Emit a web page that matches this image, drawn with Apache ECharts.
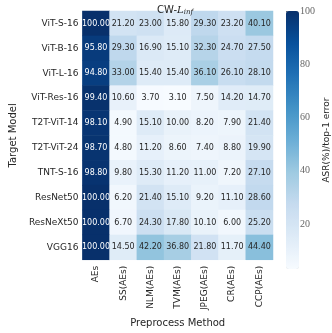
<!DOCTYPE html>
<html><head><meta charset="utf-8">
<script src="https://cdn.jsdelivr.net/npm/echarts@6/dist/echarts.min.js"></script>
<style>html,body{margin:0;padding:0;background:#fff}#c{width:332px;height:333px}</style>
</head><body><div id="c"></div>
<script>
const models = ['ViT-S-16','ViT-B-16','ViT-L-16','ViT-Res-16','T2T-ViT-14','T2T-ViT-24','TNT-S-16','ResNet50','ResNeXt50','VGG16'];
const methods = ['AEs','SS(AEs)','NLM(AEs)','TVM(AEs)','JPEG(AEs)','CR(AEs)','CCP(AEs)'];
const vit_s_16 = [100.00, 21.20, 23.00, 15.80, 29.30, 23.20, 40.10];
const vit_b_16 = [95.80, 29.30, 16.90, 15.10, 32.30, 24.70, 27.50];
const vit_l_16 = [94.80, 33.00, 15.40, 15.40, 36.10, 26.10, 28.10];
const vit_res_16 = [99.40, 10.60, 3.70, 3.10, 7.50, 14.20, 14.70];
const t2t_vit_14 = [98.10, 4.90, 15.10, 10.00, 8.20, 7.90, 21.40];
const t2t_vit_24 = [98.70, 4.80, 11.20, 8.60, 7.40, 8.80, 19.90];
const tnt_s_16 = [98.80, 9.80, 15.30, 11.20, 11.00, 7.20, 27.10];
const resnet50 = [100.00, 6.20, 21.40, 15.10, 9.20, 11.10, 28.60];
const resnext50 = [100.00, 6.70, 24.30, 17.80, 10.10, 6.00, 25.20];
const vgg16 = [100.00, 14.50, 42.20, 36.80, 21.80, 11.70, 44.40];
const colorbarTicks = [20, 40, 60, 80, 100];
const cmin = 3.1, cmax = 100;

const rows = [vit_s_16, vit_b_16, vit_l_16, vit_res_16, t2t_vit_14, t2t_vit_24, tnt_s_16, resnet50, resnext50, vgg16];
const blues = ['#f7fbff','#deebf7','#c6dbef','#9ecae1','#6baed6','#4292c6','#2171b5','#08519c','#08306b'];
const data = [];
rows.forEach((r, yi) => r.forEach((v, xi) => {
  data.push({value: [xi, yi, v], label: {color: v > 60 ? '#ffffff' : '#262626'}});
}));
const FONT = 'DejaVu Sans';
const chart = echarts.init(document.getElementById('c'), null, {renderer: 'canvas'});
chart.setOption({
  animation: false,
  title: {
    text: '{a|CW-}{i|L}{s|inf}', left: 170, top: -1, textAlign: 'center',
    textStyle: {fontWeight: 'normal', rich: {
      a: {fontFamily: FONT, fontSize: 10, fontWeight: 'normal', color: '#262626'},
      i: {fontFamily: 'DejaVu Serif', fontStyle: 'italic', fontWeight: 'normal', fontSize: 10, color: '#262626'},
      s: {fontFamily: 'DejaVu Serif', fontStyle: 'italic', fontWeight: 'normal', fontSize: 7, color: '#262626', padding: [5, 0, 0, 0]}
    }}
  },
  grid: [
    {left: 67, top: 11, width: 206, height: 258},
    {left: 286, top: 11, width: 13, height: 258}
  ],
  xAxis: [
    {type: 'category', data: methods, gridIndex: 0, position: 'bottom',
     axisLine: {show: false}, axisTick: {show: false}, splitLine: {show: false},
     axisLabel: {rotate: 90, fontFamily: FONT, fontSize: 9, color: '#262626', margin: 6},
     name: 'Preprocess Method', nameLocation: 'middle', nameGap: 56,
     nameTextStyle: {fontFamily: FONT, fontSize: 10, color: '#262626'}},
    {type: 'value', gridIndex: 1, show: false}
  ],
  yAxis: [
    {type: 'category', data: models, gridIndex: 0, inverse: true,
     axisLine: {show: false}, axisTick: {show: false}, splitLine: {show: false},
     axisLabel: {fontFamily: FONT, fontSize: 9, color: '#262626', margin: 4},
     name: 'Target Model', nameLocation: 'middle', nameGap: 63, nameRotate: 90,
     nameTextStyle: {fontFamily: FONT, fontSize: 10, color: '#262626'}},
    {type: 'value', gridIndex: 1, position: 'right', min: cmin, max: cmax,
     axisLine: {show: false}, splitLine: {show: false},
     axisTick: {show: true, length: 3, lineStyle: {color: '#666'}, customValues: colorbarTicks},
     axisLabel: {fontFamily: 'Liberation Serif', fontSize: 10, color: '#666', margin: 2, customValues: colorbarTicks},
     name: 'ASR(%)/top-1 error', nameLocation: 'middle', nameGap: 24, nameRotate: 90,
     nameTextStyle: {fontFamily: FONT, fontSize: 9, color: '#262626'}}
  ],
  visualMap: {
    type: 'continuous', min: cmin, max: cmax, seriesIndex: 0, calculable: false,
    orient: 'vertical', left: 286, top: 11, itemWidth: 13, itemHeight: 258,
    padding: 0, text: null, showLabel: false, hoverLink: false,
    inRange: {color: blues}
  },
  series: [
    {type: 'heatmap', xAxisIndex: 0, yAxisIndex: 0, data: data,
     label: {show: true, fontFamily: FONT, fontSize: 8, formatter: p => p.value[2].toFixed(2)},
     itemStyle: {borderWidth: 0}},
    {type: 'scatter', xAxisIndex: 1, yAxisIndex: 1, data: [], silent: true}
  ]
});
</script></body></html>
